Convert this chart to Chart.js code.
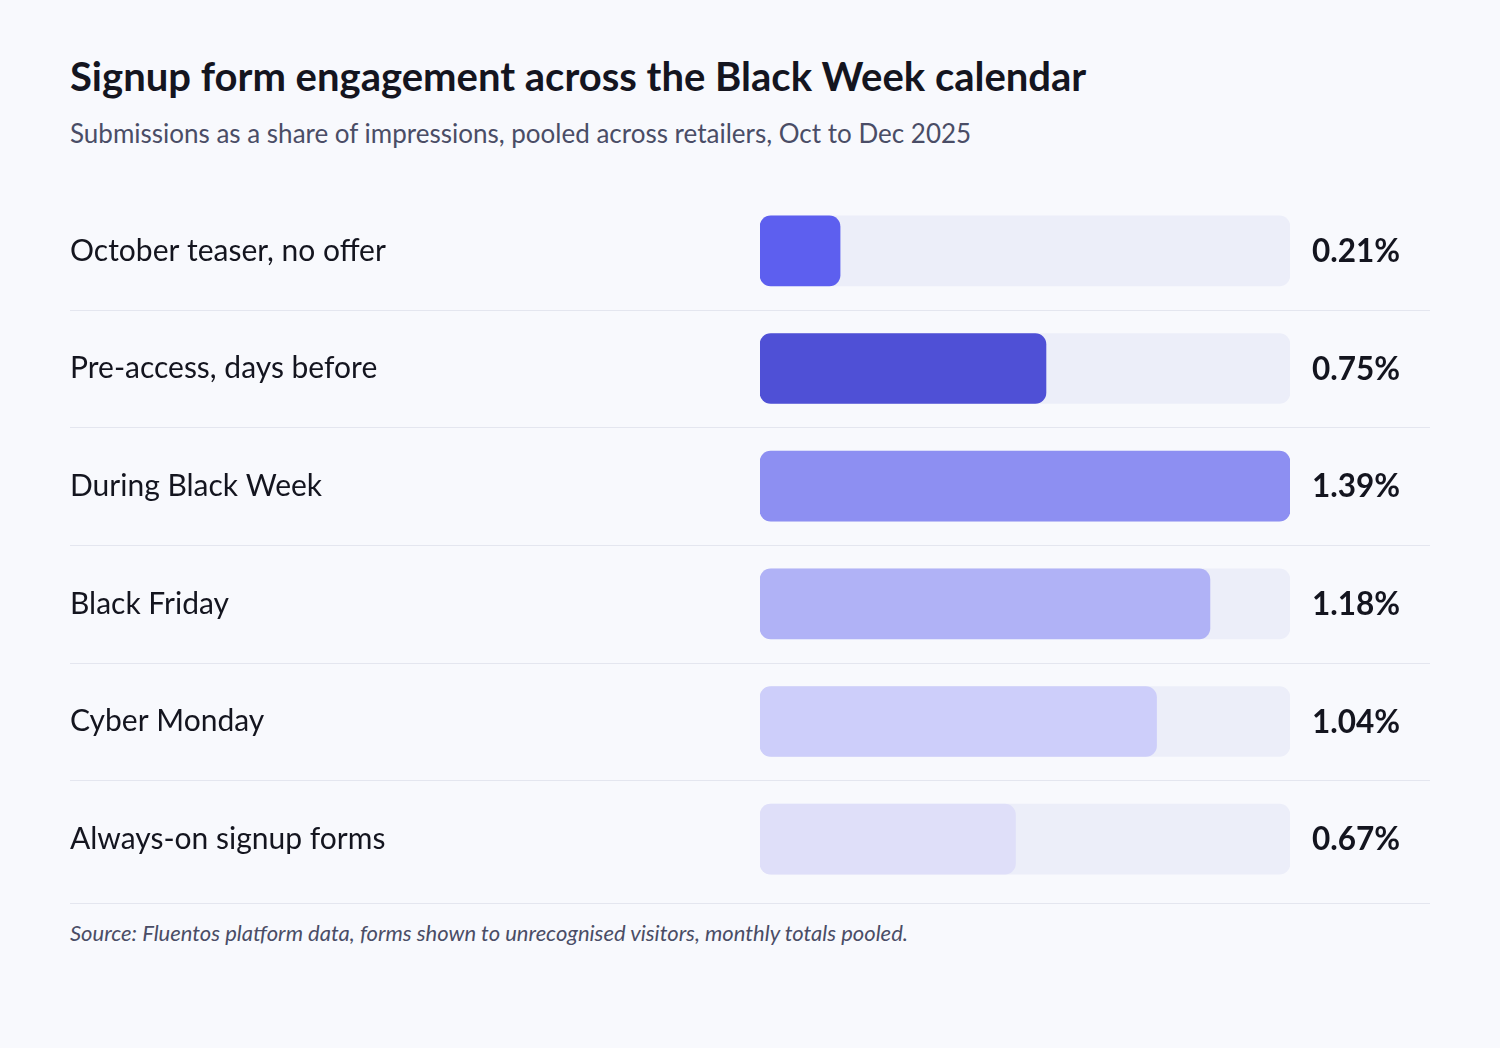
<!DOCTYPE html>
<html>
<head>
<meta charset="utf-8">
<script src="https://cdn.jsdelivr.net/npm/chart.js@4.4.1/dist/chart.umd.min.js"></script>
<style>
  html, body { margin: 0; padding: 0; }
  body { width: 1500px; height: 1048px; background: #f8f9fd; font-family: Lato, 'Noto Sans', sans-serif; position: relative; overflow: hidden; }
  .title { position: absolute; left: 70px; top: 52px; font-size: 40px; font-weight: 700; color: #14151f; white-space: nowrap; }
  .sub { position: absolute; left: 70px; top: 117px; font-size: 26px; color: #4a4d66; white-space: nowrap; }
  .chart-wrap { position: absolute; left: 0; top: 174px; width: 1500px; height: 742px; }
  .foot-line { position: absolute; left: 70px; top: 903px; width: 1360px; height: 1px; background: #e4e6ef; }
  .foot { position: absolute; left: 70px; top: 919px; font-size: 22px; font-style: italic; color: #4a4d66; white-space: nowrap; }
</style>
</head>
<body>
<div class="title">Signup form engagement across the Black Week calendar</div>
<div class="sub">Submissions as a share of impressions, pooled across retailers, Oct to Dec 2025</div>
<div class="chart-wrap"><canvas id="bars"></canvas></div>
<div class="foot-line"></div>
<div class="foot">Source: Fluentos platform data, forms shown to unrecognised visitors, monthly totals pooled.</div>

<script>
// data
var categories = ['October teaser, no offer', 'Pre-access, days before', 'During Black Week', 'Black Friday', 'Cyber Monday', 'Always-on signup forms'];
var rates = [0.21, 0.75, 1.39, 1.18, 1.04, 0.67];
var barColors = ['#5d5fef', '#4f50d6', '#8d8ff2', '#b0b2f6', '#cdcefa', '#dfdff9'];
var scaleMax = 1.39;

// row separators + value labels
var rowDecor = {
  id: 'rowDecor',
  beforeDatasetsDraw: function (chart) {
    var ctx = chart.ctx, y = chart.scales.y;
    ctx.save();
    ctx.strokeStyle = '#e4e6ef';
    ctx.lineWidth = 1;
    for (var i = 0; i < categories.length - 1; i++) {
      var py = Math.round((y.getPixelForValue(i) + y.getPixelForValue(i + 1)) / 2) + 0.5;
      ctx.beginPath();
      ctx.moveTo(70, py);
      ctx.lineTo(1430, py);
      ctx.stroke();
    }
    ctx.restore();
  },
  afterDatasetsDraw: function (chart) {
    var ctx = chart.ctx, y = chart.scales.y;
    ctx.save();
    ctx.font = '700 31.5px Lato, sans-serif';
    ctx.fillStyle = '#14151f';
    ctx.textBaseline = 'middle';
    ctx.textAlign = 'left';
    rates.forEach(function (v, i) {
      ctx.fillText(v.toFixed(2) + '%', chart.chartArea.right + 22, y.getPixelForValue(i) + 1);
    });
    ctx.restore();
  }
};

new Chart(document.getElementById('bars').getContext('2d'), {
  type: 'bar',
  data: {
    labels: categories,
    datasets: [
      { data: rates, backgroundColor: barColors, borderRadius: 11, borderSkipped: false, barThickness: 70, grouped: false, order: 1 },
      { data: categories.map(function () { return scaleMax; }), backgroundColor: '#eceef9', borderRadius: 11, borderSkipped: false, barThickness: 70, grouped: false, order: 2 }
    ]
  },
  options: {
    indexAxis: 'y',
    responsive: true, maintainAspectRatio: false,
    animation: false,
    layout: { padding: { left: 70, right: 210, top: 0, bottom: 4 } },
    plugins: { legend: { display: false }, tooltip: { enabled: false } },
    scales: {
      x: { display: false, min: 0, max: scaleMax },
      y: {
        grid: { display: false }, border: { display: false },
        afterFit: function (s) { s.width = 690; },
        ticks: { crossAlign: 'far', padding: 0, color: '#14151f', font: { family: 'Lato', size: 30 } }
      }
    }
  },
  plugins: [rowDecor]
});
</script>
</body>
</html>
